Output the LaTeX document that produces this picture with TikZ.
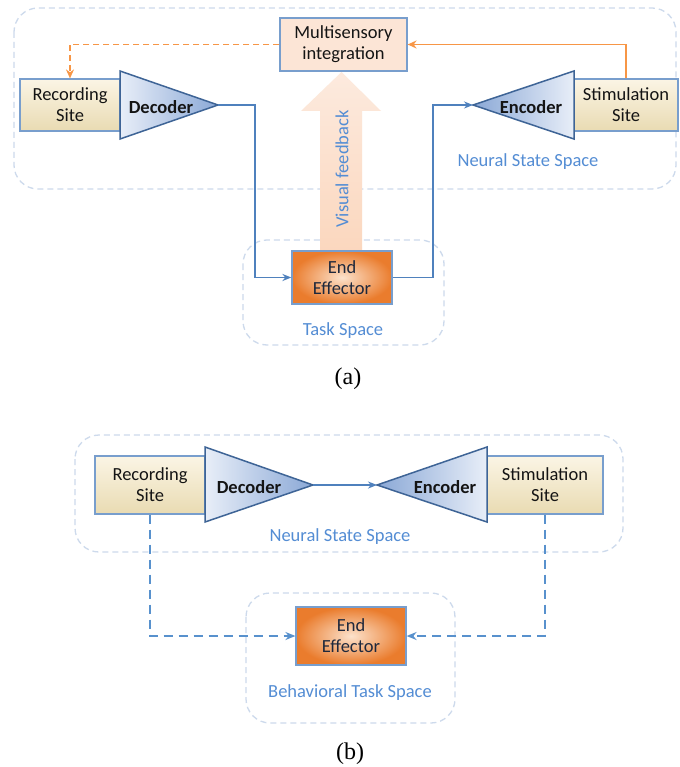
\documentclass[tikz,border=0pt]{standalone}
\usepackage{fontspec}
\setmainfont{Carlito}
\newfontfamily\capfont{Liberation Serif}
\usetikzlibrary{arrows.meta,calc}
\definecolor{lineblue}{RGB}{79,129,189}
\definecolor{dashblue}{RGB}{88,145,205}
\definecolor{labelblue}{RGB}{84,141,212}
\definecolor{boxblue}{RGB}{120,158,205}
\definecolor{spacegray}{RGB}{205,218,236}
\definecolor{orangeline}{RGB}{247,150,70}
\definecolor{peach}{RGB}{252,229,214}
\definecolor{peachdark}{RGB}{251,215,190}
\definecolor{beigetop}{RGB}{251,245,229}
\definecolor{beigebot}{RGB}{233,219,178}
\definecolor{tridark}{RGB}{138,168,214}
\definecolor{trilight}{RGB}{232,238,248}
\definecolor{triedge}{RGB}{62,100,150}
\definecolor{eeout}{RGB}{234,124,45}
\definecolor{eein}{RGB}{252,226,204}
\definecolor{txt}{RGB}{20,20,20}
\tikzset{
  site/.style={draw=boxblue, line width=1.2pt, top color=beigetop, bottom color=beigebot,
    align=center, text=txt, font=\fontsize{18.5}{21}\selectfont, inner sep=0pt},
  multibox/.style={draw=boxblue, line width=1.2pt, fill=peach, align=center, text=txt,
    font=\fontsize{18.5}{21}\selectfont, inner sep=0pt},
  effbox/.style={draw=boxblue, line width=1.2pt, inner color=eein, outer color=eeout,
    align=center, text={rgb,255:red,30;green,40;blue,60}, font=\fontsize{18.5}{21}\selectfont, inner sep=0pt},
  spacebox/.style={draw=spacegray, line width=1.3pt, dash pattern=on 6pt off 4pt, rounded corners=24pt},
  spacelabel/.style={text=labelblue, font=\fontsize{18.5}{21}\selectfont},
  triname/.style={font=\bfseries\fontsize{18.5}{21}\selectfont, text=txt},
  conn/.style={draw=lineblue, line width=1.6pt, -{Stealth[length=9pt,width=7pt]}},
  dconn/.style={draw=dashblue, line width=2.2pt, dash pattern=on 9pt off 6pt, -{Stealth[length=10pt,width=8pt]}},
  oconn/.style={draw=orangeline, line width=1.6pt, -{Stealth[length=9pt,width=8pt]}},
  odconn/.style={draw=orangeline, line width=1.6pt, dash pattern=on 6pt off 4pt, -{Stealth[length=9pt,width=8pt]}},
  captext/.style={font=\capfont\fontsize{24}{26}\selectfont, text=black}
}
\begin{document}
\begin{tikzpicture}[x=1pt,y=-1pt]
\useasboundingbox (0,0) rectangle (679,767);
\fill[white] (0,0) rectangle (679,767);

% ===================== (a) =====================
\draw[spacebox] (14,8) rectangle (676,189);
\draw[spacebox] (243,240) rectangle (444,345);

% Visual feedback arrow
\shade[top color=peach!80!white, bottom color=peachdark]
  (320,251) -- (320,111) -- (301,111) -- (341.5,72) -- (381,111) -- (362,111) -- (362,251) -- cycle;
\node[rotate=90, text=labelblue, font=\fontsize{18.5}{21}\selectfont] (vf) at (342,169) {Visual feedback};

\node[site, minimum width=100pt, minimum height=52pt] (rec) at (70,105) {Recording\\Site};
\node[site, minimum width=104pt, minimum height=52pt] (stim) at (626,105) {Stimulation\\Site};
\node[multibox, minimum width=127pt, minimum height=53pt] (multi) at (343.5,44.5) {Multisensory\\integration};
\node[effbox, minimum width=100pt, minimum height=53pt] (ee) at (342,277.5) {End\\Effector};

% Decoder triangle
\coordinate (dtip) at (218,105);
\shade[left color=trilight, right color=tridark, draw=triedge, line width=1.5pt, line join=miter]
  (120,71) -- (dtip) -- (120,139) -- cycle;
\node[triname] (dec) at (161,107) {Decoder};
% Encoder triangle
\coordinate (etip) at (473,105);
\shade[left color=tridark, right color=trilight, draw=triedge, line width=1.5pt, line join=miter]
  (574,71) -- (etip) -- (574,139) -- cycle;
\node[triname] (enc) at (531,107) {Encoder};

\coordinate (c1) at (255,105);
\coordinate (c2) at (433,105);
\draw[conn] (dtip) -- (c1) |- (ee.west);
\draw[conn] (ee.east) -| (c2) -- (etip);
\draw[oconn] (stim.north) |- (multi.east);
\draw[odconn] (multi.west) -| (rec.north);

\node[spacelabel] (nss) at (528,162) {Neural State Space};
\node[spacelabel] (ts) at (343,331) {Task Space};
\node[captext] (capa) at (348,379) {(a)};

% ===================== (b) =====================
\draw[spacebox] (75,435) rectangle (623,552);
\draw[spacebox] (246,593) rectangle (455,723);

\node[site, minimum width=110pt, minimum height=58pt] (rec2) at (150,485) {Recording\\Site};
\node[site, minimum width=116pt, minimum height=58pt] (stim2) at (545,485) {Stimulation\\Site};
\node[effbox, minimum width=110pt, minimum height=58pt] (ee2) at (351,636) {End\\Effector};

\coordinate (dtip2) at (313,485);
\shade[left color=trilight, right color=tridark, draw=triedge, line width=1.5pt, line join=miter]
  (205,447) -- (dtip2) -- (205,522) -- cycle;
\node[triname] (dec2) at (249,487) {Decoder};
\coordinate (etip2) at (377,485);
\shade[left color=tridark, right color=trilight, draw=triedge, line width=1.5pt, line join=miter]
  (487,447) -- (etip2) -- (487,522) -- cycle;
\node[triname] (enc2) at (445,487) {Encoder};

\draw[conn] (dtip2) -- (etip2);
\draw[dconn] (rec2.south) |- (ee2.west);
\draw[dconn] (stim2.south) |- (ee2.east);

\node[spacelabel] (nss2) at (340,537) {Neural State Space};
\node[spacelabel] (bts) at (350,693) {Behavioral Task Space};
\node[captext] (capb) at (350,754) {(b)};
\end{tikzpicture}
\end{document}
